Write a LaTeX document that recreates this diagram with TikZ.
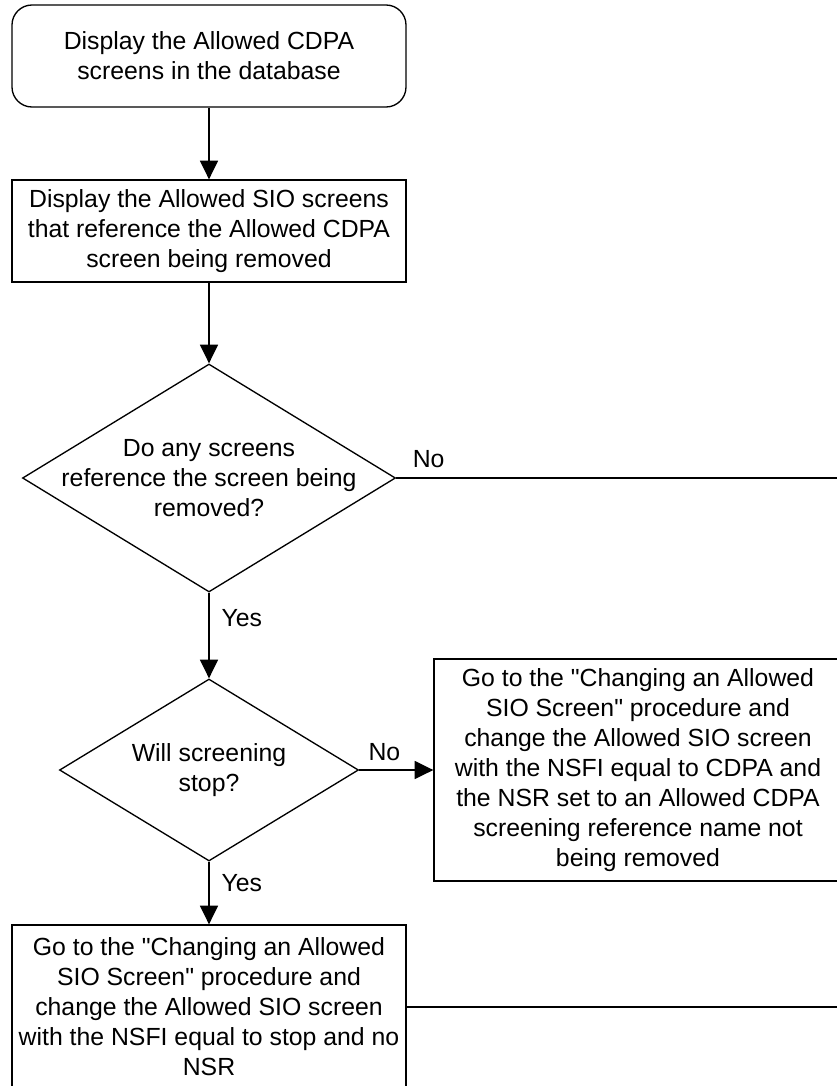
\documentclass[tikz,border=0pt]{standalone}
\usepackage{fontspec}
\setmainfont{Liberation Sans}[Ligatures=TeXOff]
\usetikzlibrary{shapes.geometric, arrows.meta, positioning, calc}

\begin{document}
\begin{tikzpicture}[x=0.75pt, y=-0.75pt,
    font=\fontsize{18.6}{22.5}\selectfont,
    every node/.style={align=center, inner sep=0pt},
    proc/.style={draw, rectangle, line width=1pt, minimum width=295.5pt},
    startbox/.style={proc, rounded corners=15pt},
    decision/.style={draw, diamond, line width=1pt},
    line/.style={line width=1pt},
    flow/.style={line, -{Triangle[length=14pt, width=13.5pt]}}]
    \useasboundingbox (0,0) rectangle (836,1086);

    \node (dispcdpa) at (209,56) [startbox, minimum height=76.5pt] {Display the Allowed CDPA\\screens in the database};
    \node (dispsio) at (209,231) [proc, minimum height=76.5pt] {Display the Allowed SIO screens\\that reference the Allowed CDPA\\screen being removed};
    \node (anyref) at (209,478) [decision, minimum width=279.75pt, minimum height=171pt] {};
    \node (anyreftxt) at (anyref.center) {Do any screens\\reference the screen being\\removed?};
    \node (willstop) at (209,770) [decision, minimum width=224.25pt, minimum height=136.5pt] {};
    \node (willstoptxt) at (willstop.center) {Will screening\\stop?};
    \node (changecdpa) at (638,770) [proc, minimum width=306pt, minimum height=166.5pt] {Go to the "Changing an Allowed\\SIO Screen" procedure and\\change the Allowed SIO screen\\with the NSFI equal to CDPA and\\the NSR set to an Allowed CDPA\\screening reference name not\\being removed};
    \node (changestop) at (209,1007) [proc, minimum height=123pt] {Go to the "Changing an Allowed\\SIO Screen" procedure and\\change the Allowed SIO screen\\with the NSFI equal to stop and no\\NSR};
    \coordinate (noexit) at (840,478);
    \coordinate (stopexit) at (840,1007);

    \draw [flow] (dispcdpa) -- (dispsio);
    \draw [flow] (dispsio) -- (anyref);
    \draw [line] (anyref) -- node (no1) [pos=0.036, anchor=south west, yshift=7.5pt] {No} (noexit);
    \draw [flow] (anyref) -- node (yes1) [pos=0.3, anchor=west, xshift=9pt] {Yes} (willstop);
    \draw [flow] (willstop) -- node (no2) [pos=0.117, anchor=south west, yshift=6.75pt] {No} (changecdpa);
    \draw [flow] (willstop) -- node (yes2) [pos=0.34, anchor=west, xshift=9pt] {Yes} (changestop);
    \draw [line] (changestop) -- (stopexit);
\end{tikzpicture}
\end{document}
